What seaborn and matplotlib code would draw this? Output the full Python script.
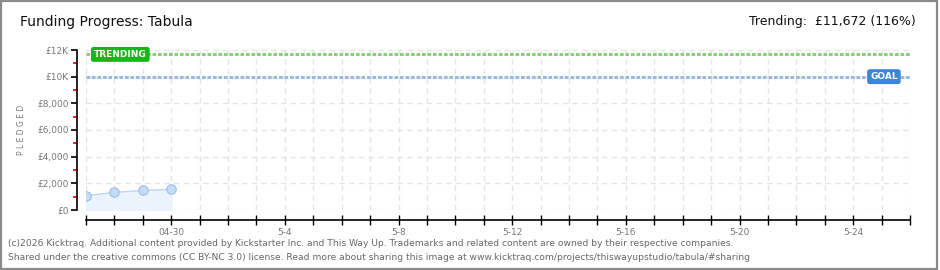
import matplotlib
matplotlib.use("Agg")
import matplotlib.pyplot as plt
import matplotlib.dates as mdates
import seaborn as sns
import pandas as pd
import numpy as np
from matplotlib.patches import Rectangle
from matplotlib.ticker import FixedLocator

# ---- data ----
dates = ["2026-04-27", "2026-04-28", "2026-04-29", "2026-04-30"]
pledged = [1075, 1320, 1470, 1550]
goal = 10000
trending = 11672
title = "Funding Progress: Tabula"
trend_text = "Trending:  £11,672 (116%)"
ytick_vals = [0, 2000, 4000, 6000, 8000, 10000, 12000]
ytick_labels = ["£0", "£2,000", "£4,000", "£6,000", "£8,000", "£10K", "£12K"]
xlabel_dates = ["2026-04-30", "2026-05-04", "2026-05-08", "2026-05-12",
                "2026-05-16", "2026-05-20", "2026-05-24"]
xlabel_texts = ["04-30", "5-4", "5-8", "5-12", "5-16", "5-20", "5-24"]
x_start, x_end = "2026-04-27", "2026-05-26"
footer1 = ("(c)2026 Kicktraq. Additional content provided by Kickstarter Inc. and This Way Up. "
           "Trademarks and related content are owned by their respective companies.")
footer2 = ("Shared under the creative commons (CC BY-NC 3.0) license. Read more about sharing this "
           "image at www.kicktraq.com/projects/thiswayupstudio/tabula/#sharing")

df = pd.DataFrame({"date": pd.to_datetime(dates), "pledged": pledged})

sns.set_theme(style="white")
plt.rcParams["font.family"] = ["DejaVu Sans"]

W, H = 940, 270
fig = plt.figure(figsize=(W / 100, H / 100), dpi=100)
ax = fig.add_axes([86 / W, 1 - 210 / H, (910 - 86) / W, (210 - 50) / H])

# grid
x0, x1 = pd.Timestamp(x_start), pd.Timestamp(x_end)
ax.set_xlim(x0, x1)
ax.set_ylim(0, 12000)
days = pd.date_range(x0, x1, freq="D")
for d in days:
    ax.axvline(d, color="#e4e4e4", lw=1, ls=(0, (4, 3)), zorder=0)
for v in ytick_vals:
    ax.axhline(v, color="#e4e4e4", lw=1, ls=(0, (4, 3)), zorder=0)

# area + line
ax.fill_between(df["date"], df["pledged"], 0, color="#ebf4fd", zorder=1)
sns.lineplot(data=df, x="date", y="pledged", ax=ax, color="#bcd6f2", lw=1,
             marker="o", markersize=6.8, markerfacecolor="#c4dcf7",
             markeredgecolor="#9dbde3", markeredgewidth=0.8, zorder=3)

# goal & trending lines
ax.axhline(trending, color="#86d07a", lw=2.2, ls=(0, (1.2, 0.6)), zorder=2)
ax.axhline(goal, color="#9bb8dd", lw=2.2, ls=(0, (1.2, 0.6)), zorder=2)

# labels on lines
ax.text(pd.Timestamp("2026-04-28") + pd.Timedelta(hours=5), trending, "TRENDING",
        color="white", fontsize=6.5, fontweight="bold", ha="center", va="center",
        bbox=dict(boxstyle="round,pad=0.25,rounding_size=0.2", fc="#16b716", ec="#16b716"),
        zorder=5)
ax.text(pd.Timestamp("2026-05-25") + pd.Timedelta(hours=2), goal, "GOAL",
        color="white", fontsize=6.5, fontweight="bold", ha="center", va="center",
        bbox=dict(boxstyle="round,pad=0.25,rounding_size=0.2", fc="#3b86d6", ec="#3b86d6"),
        zorder=5)

# spines
for s in ["top", "right"]:
    ax.spines[s].set_visible(False)
ax.spines["left"].set_position(("outward", 6.5))
ax.spines["bottom"].set_position(("outward", 7.2))
for s in ["left", "bottom"]:
    ax.spines[s].set_color("black")
    ax.spines[s].set_linewidth(1.2)

# y ticks
ax.yaxis.set_major_locator(FixedLocator(ytick_vals))
ax.set_yticklabels(ytick_labels)
ax.yaxis.set_minor_locator(FixedLocator([1000, 3000, 5000, 7000, 9000, 11000]))
ax.tick_params(axis="y", which="major", direction="out", length=4, width=1.2,
               color="black", labelsize=6.5, labelcolor="#777777", pad=2, left=True)
ax.tick_params(axis="y", which="minor", direction="out", length=3, width=1.2,
               color="#e00000", left=True)

# x ticks
ax.xaxis.set_major_locator(FixedLocator(mdates.date2num(days)))
ax.xaxis.set_minor_locator(FixedLocator([]))
lbl_map = dict(zip(pd.to_datetime(xlabel_dates), xlabel_texts))
ax.set_xticklabels([lbl_map.get(d, "") for d in days])
ax.tick_params(axis="x", which="major", direction="inout", length=7, width=1,
               color="black", labelsize=6.5, labelcolor="#777777", pad=2, bottom=True)

ax.set_xlabel("")
ax.set_ylabel("")
fig.text(22 / W, 1 - 130 / H, "P L E D G E D", rotation=90, fontsize=5.5,
         color="#777777", ha="center", va="center")

# titles
fig.text(20 / W, 1 - 22 / H, title, fontsize=10, color="#111111", ha="left", va="center")
fig.text(916 / W, 1 - 22 / H, trend_text, fontsize=9, color="#111111", ha="right", va="center")

# footer
fig.text(8 / W, 1 - 243 / H, footer1, fontsize=6.6, color="#666666", ha="left", va="center")
fig.text(8 / W, 1 - 257 / H, footer2, fontsize=6.6, color="#666666", ha="left", va="center")

# frame
fig.patches.append(Rectangle((0.001, 0.003), 0.996, 0.994, transform=fig.transFigure,
                             fill=False, ec="#8a8a8a", lw=1.6))

fig.savefig("out.png", dpi=100, facecolor="white")
